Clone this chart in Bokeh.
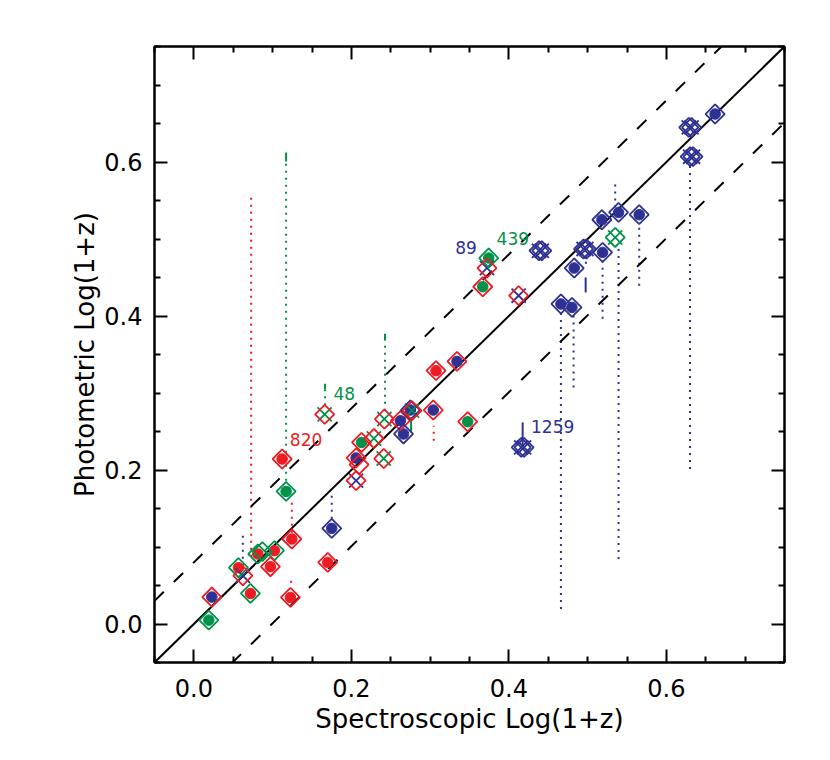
import numpy as np
from bokeh.plotting import figure
from bokeh.models import LinearAxis, Range1d, ColumnDataSource, FixedTicker, PrintfTickFormatter
from bokeh.embed import file_html
from bokeh.resources import INLINE
from bokeh.core.properties import value

# ---------------- data ----------------
COL = {"B": "#2E3192", "R": "#ED1C24", "G": "#00924A"}

# spectroscopic log(1+z), photometric log(1+z), diamond colour, inner symbol, inner colour
spec = [0.019, 0.0228, 0.0566, 0.0622, 0.0718, 0.0812, 0.087, 0.1023, 0.0972, 0.1244,
        0.1226, 0.170, 0.1751, 0.1171, 0.1121, 0.1661, 0.2129, 0.206, 0.2098, 0.206,
        0.2286, 0.2419, 0.2411, 0.2622, 0.2662, 0.2749, 0.277, 0.304, 0.3075, 0.3341,
        0.3477, 0.3744, 0.3722, 0.3668, 0.4124, 0.4382, 0.4418, 0.4948, 0.4984, 0.483,
        0.5181, 0.5393, 0.5655, 0.535, 0.519, 0.4661, 0.4801, 0.6284, 0.632, 0.6302,
        0.6338, 0.6619, 0.4157, 0.4193]
phot = [0.005, 0.035, 0.0731, 0.0627, 0.0397, 0.0909, 0.094, 0.0952, 0.0744, 0.1104,
        0.0345, 0.080, 0.1242, 0.1722, 0.2143, 0.2722, 0.2358, 0.2156, 0.2070, 0.1862,
        0.2409, 0.2662, 0.2149, 0.264, 0.2468, 0.2779, 0.2771, 0.2779, 0.329, 0.341,
        0.2627, 0.4753, 0.4623, 0.438, 0.4264, 0.4848, 0.4848, 0.487, 0.487, 0.4623,
        0.525, 0.5345, 0.5316, 0.502, 0.4826, 0.4156, 0.4112, 0.645, 0.645, 0.6069,
        0.6069, 0.6623, 0.2294, 0.2294]
ring = ["G", "R", "G", "R", "G", "G", "G", "G", "R", "R",
        "R", "R", "B", "G", "R", "R", "R", "R", "R", "R",
        "R", "R", "R", "R", "B", "B", "R", "R", "R", "R",
        "R", "G", "R", "R", "R", "B", "B", "B", "B", "B",
        "B", "B", "B", "G", "B", "B", "B", "B", "B", "B",
        "B", "B", "B", "B"]
kind = ["o", "o", "o", "x", "o", "o", "-", "o", "o", "o",
        "o", "o", "o", "o", "o", "x", "o", "o", "-", "x",
        "x", "x", "x", "o", "o", "o", "x", "o", "o", "o",
        "o", "o", "x", "o", "x", "x", "x", "x", "x", "o",
        "o", "o", "o", "x", "o", "o", "o", "x", "x", "x",
        "x", "o", "x", "x"]
core = ["G", "B", "R", "B", "R", "R", "-", "R", "R", "R",
        "R", "R", "B", "G", "R", "G", "G", "B", "-", "B",
        "G", "G", "G", "B", "B", "B", "G", "B", "R", "B",
        "G", "G", "B", "G", "B", "B", "B", "B", "B", "B",
        "B", "B", "B", "G", "B", "B", "B", "B", "B", "B",
        "B", "B", "B", "B"]

# dotted ranges
dot_x = [0.0727, 0.1171, 0.1244, 0.1235, 0.0622, 0.1751, 0.1666, 0.2427, 0.3046, 0.3033,
         0.535, 0.5393, 0.5655, 0.630, 0.519, 0.4822, 0.4661, 0.4978]
dot_lo = [0.0874, 0.186, 0.1186, 0.0537, 0.0757, 0.1368, 0.284, 0.277, 0.238, 0.3265,
          0.541, 0.0844, 0.4394, 0.2013, 0.3965, 0.3073, 0.0195, 0.468]
dot_hi = [0.5585, 0.6005, 0.164, 0.0627, 0.119, 0.171, 0.305, 0.368, 0.2575, 0.342,
          0.576, 0.4935, 0.52, 0.5955, 0.4718, 0.4069, 0.4069, 0.4826]
dot_c = ["R", "G", "R", "R", "B", "B", "G", "G", "R", "B",
         "B", "B", "B", "B", "B", "B", "B", "B"]

# solid short ranges
sol_x = [0.1171, 0.1666, 0.2427, 0.2758, 0.4975, 0.4175]
sol_lo = [0.6005, 0.305, 0.368, 0.2488, 0.4306, 0.2294]
sol_hi = [0.6125, 0.312, 0.377, 0.2683, 0.4501, 0.2618]
sol_c = ["G", "G", "G", "G", "B", "B"]

# object labels
lab_text = ["89", "439", "48", "820", "1259"]
lab_x = [0.3456, 0.405, 0.191, 0.1425, 0.4556]
lab_y = [0.489, 0.501, 0.299, 0.240, 0.256]
lab_c = ["B", "G", "G", "R", "B"]

UPPER = 0.08
LOWER = -0.099
MAJOR = [0.0, 0.2, 0.4, 0.6]
MINOR = [-0.05, 0.05, 0.1, 0.15, 0.25, 0.3, 0.35, 0.45, 0.5, 0.55, 0.65, 0.7, 0.75]

# ---------------- figure ----------------
p = figure(width=810, height=750, x_range=Range1d(-0.05, 0.75), y_range=Range1d(-0.05, 0.75),
           output_backend="svg", toolbar_location=None,
           min_border_left=154, min_border_right=26, min_border_top=46, min_border_bottom=88,
           x_axis_label="Spectroscopic Log(1+z)", y_axis_label="Photometric Log(1+z)")
p.grid.visible = False
p.outline_line_color = "black"
p.outline_line_width = 2
p.background_fill_color = "white"
p.border_fill_color = "white"

FONT = "DejaVu Sans"

def style(ax, show):
    ax.ticker = FixedTicker(ticks=MAJOR, minor_ticks=MINOR)
    ax.formatter = PrintfTickFormatter(format="%.1f")
    ax.major_tick_in = 13
    ax.major_tick_out = 0
    ax.minor_tick_in = 6
    ax.minor_tick_out = 0
    ax.axis_line_width = 2
    ax.major_tick_line_width = 2
    ax.minor_tick_line_width = 2
    ax.axis_line_color = "black"
    ax.major_tick_line_color = "black"
    ax.minor_tick_line_color = "black"
    if show:
        ax.major_label_text_font = FONT
        ax.major_label_text_font_size = "24px"
        ax.major_label_text_color = "black"
        ax.axis_label_text_font = FONT
        ax.axis_label_text_font_size = "26px"
        ax.axis_label_text_font_style = "normal"
        ax.axis_label_text_color = "black"
    else:
        ax.major_label_text_font_size = "1px"
        ax.major_label_text_alpha = 0
        ax.major_label_standoff = 0

style(p.below[0], True)
style(p.left[0], True)
p.below[0].major_label_standoff = 16
p.below[0].axis_label_standoff = 4
p.left[0].major_label_standoff = 12
p.left[0].axis_label_standoff = 1

top = LinearAxis()
style(top, False)
p.add_layout(top, "above")
right = LinearAxis()
style(right, False)
p.add_layout(right, "right")

# dotted and solid ranges
p.segment(x0=dot_x, y0=dot_lo, x1=dot_x, y1=dot_hi, line_color=[COL[c] for c in dot_c],
          line_width=2, line_dash=value("2 5"))
p.segment(x0=sol_x, y0=sol_lo, x1=sol_x, y1=sol_hi, line_color=[COL[c] for c in sol_c],
          line_width=2)

# reference lines
lx = np.array([-0.05, 0.75])
p.line(lx, lx, line_color="black", line_width=2)
p.line(lx, lx + UPPER, line_color="black", line_width=2, line_dash="13 14")
p.line(lx, lx + LOWER, line_color="black", line_width=2, line_dash="13 14")

# markers
idx_o = [i for i, k in enumerate(kind) if k == "o"]
idx_x = [i for i, k in enumerate(kind) if k == "x"]

src_o = ColumnDataSource(dict(x=[spec[i] for i in idx_o], y=[phot[i] for i in idx_o],
                              c=[COL[core[i]] for i in idx_o]))
p.scatter("x", "y", source=src_o, marker="circle", size=10.5, fill_color="c", line_color="c")

src_x = ColumnDataSource(dict(x=[spec[i] for i in idx_x], y=[phot[i] for i in idx_x],
                              c=[COL[core[i]] for i in idx_x]))
p.scatter("x", "y", source=src_x, marker="x", size=20, line_color="c", line_width=1.8)

src_d = ColumnDataSource(dict(x=spec, y=phot, c=[COL[r] for r in ring]))
p.scatter("x", "y", source=src_d, marker="square", angle=np.pi / 4, size=13.5,
          fill_color=None, line_color="c", line_width=1.8)

src_l = ColumnDataSource(dict(x=lab_x, y=lab_y, t=lab_text, c=[COL[c] for c in lab_c]))
p.text("x", "y", text="t", source=src_l, text_color="c", text_font=value(FONT),
       text_font_size="17px", text_align="center", text_baseline="middle")

open("out.html", "w").write(file_html(p, INLINE))
